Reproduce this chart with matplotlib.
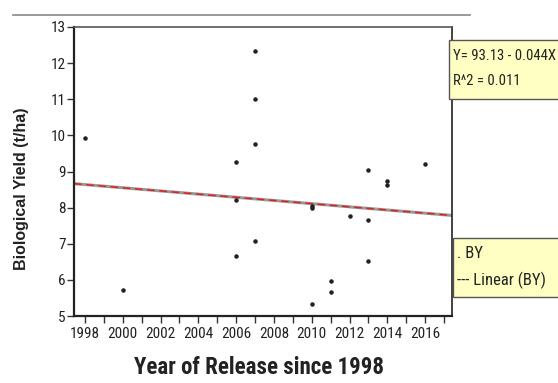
import numpy as np
import matplotlib.pyplot as plt
from matplotlib.patches import Rectangle
from matplotlib.lines import Line2D

plt.rcParams['font.family'] = ['Roboto Condensed', 'DejaVu Sans']

# data
years = [1998, 2000, 2006, 2006, 2006, 2007, 2007, 2007, 2007,
         2010, 2010, 2010, 2011, 2011, 2012, 2013, 2013, 2013,
         2014, 2014, 2016]
yield_by = [9.93, 5.71, 9.27, 8.21, 6.65, 12.33, 11.0, 9.75, 7.08,
            8.05, 7.99, 5.32, 5.98, 5.67, 7.76, 9.04, 7.67, 6.53,
            8.73, 8.62, 9.22]
fit_slope = -0.044
fit_intercept = 96.55
x_ticks = list(range(1998, 2017, 2))
y_ticks = list(range(5, 14))
eq_text = "Y= 93.13 - 0.044X"
r2_text = "R^2 = 0.011"

fig = plt.figure(figsize=(5.58, 3.83), dpi=100)
ax = fig.add_axes([74 / 558, 1 - 316 / 383, (452 - 74) / 558, (316 - 27) / 383])

ax.scatter(years, yield_by, s=5, color="#222222", zorder=3)

# fitted line (grey with red dashes on top)
xlim = (1997.42, 2017.42)
xfit = np.array(xlim)
yfit = fit_intercept + fit_slope * xfit
ax.plot(xfit, yfit, color="#999999", lw=2.2, zorder=2)
ax.plot(xfit, yfit, color="#dd2222", lw=1.1, ls=(0, (5, 3)), zorder=2)

ax.set_xlim(*xlim)
ax.set_ylim(5, 13)
ax.set_xticks(x_ticks)
ax.set_xticks(range(1998, 2018), minor=True)
ax.set_yticks(y_ticks)
ax.tick_params(axis="both", which="both", direction="out", length=5,
               width=1, color="#333333", labelsize=11, labelcolor="#222222")
ax.tick_params(axis="y", pad=1)
ax.tick_params(axis="x", pad=3)
for side in ["left", "bottom"]:
    ax.spines[side].set_linewidth(1.6)
    ax.spines[side].set_color("#222222")
ax.spines["top"].set_color("#555555")
ax.spines["top"].set_linewidth(1.2)
ax.spines["right"].set_color("#222222")
ax.spines["right"].set_linewidth(1.2)

fig.text(22 / 558, 1 - 189 / 383, "Biological Yield (t/ha)", rotation=90,
         ha="center", va="center", fontsize=11.5, fontweight="bold",
         family=["Liberation Sans", "DejaVu Sans"], color="#222222")
fig.text(259 / 558, 1 - 368 / 383, "Year of Release since 1998",
         ha="center", va="center", fontsize=16.5, fontweight="bold",
         color="#222222")

# top rule
fig.add_artist(Line2D([13 / 558, 470 / 558], [1 - 15 / 383, 1 - 15 / 383],
                      color="#888888", lw=1.2))

# yellow boxes
box_color = "#ffffc4"
fig.add_artist(Rectangle((449 / 558, 1 - 99 / 383), 0.3, 59 / 383,
                         facecolor=box_color, edgecolor="#555555", lw=1.0))
fig.text(453 / 558, 1 - 56 / 383, eq_text, fontsize=10.6, va="center",
         color="#222222")
fig.text(453 / 558, 1 - 81 / 383, r2_text, fontsize=10.6, va="center",
         color="#222222")
fig.add_artist(Rectangle((453 / 558, 1 - 297 / 383), 0.3, 59 / 383,
                         facecolor=box_color, edgecolor="#555555", lw=1.0))
fig.text(457 / 558, 1 - 254 / 383, ". BY", fontsize=12, va="center",
         color="#222222")
fig.text(457 / 558, 1 - 280 / 383, "--- Linear (BY)", fontsize=12, va="center",
         color="#222222")

fig.savefig("out.png", dpi=100)
